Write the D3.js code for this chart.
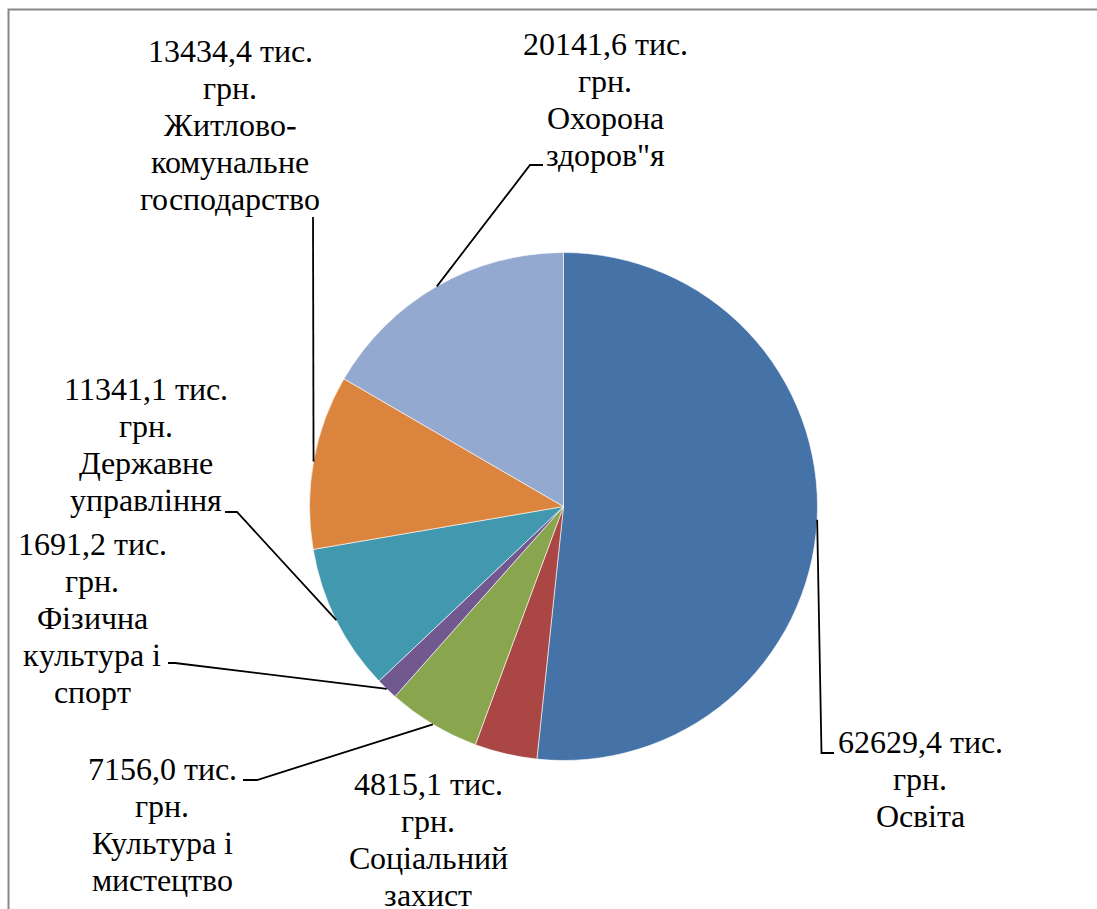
<!DOCTYPE html>
<html>
<head>
<meta charset="utf-8">
<script src="https://cdn.jsdelivr.net/npm/d3@7"></script>
<style>
  @font-face { font-family: "LabelSerif"; src: local("Liberation Serif"), local("LiberationSerif"), local("LiberationSerif-Regular"); }
</style>
</head>
<body style="margin:0">
<script>
// spending by sector, тис. грн.
const categories = ["Освіта", "Соціальний захист", "Культура і мистецтво", "Фізична культура і спорт",
  "Державне управління", "Житлово-комунальне господарство", "Охорона здоров\"я"];
const values = [62629.4, 4815.1, 7156.0, 1691.2, 11341.1, 13434.4, 20141.6];
const valueLabels = ["62629,4", "4815,1", "7156,0", "1691,2", "11341,1", "13434,4", "20141,6"];
const nameLines = [["Освіта"], ["Соціальний", "захист"], ["Культура і", "мистецтво"], ["Фізична", "культура і", "спорт"],
  ["Державне", "управління"], ["Житлово-", "комунальне", "господарство"], ["Охорона", "здоров\"я"]];
const colors = ["#4572A7", "#AA4643", "#89A54E", "#71588F", "#4198AF", "#DB843D", "#93A9CF"];

const width = 1097, height = 909;
const cx = 563.5, cy = 506.5, r = 254;
const lineH = 37;

// label placement: text centre x, first baseline y, leader elbow and end (null = no leader)
const labelPos = [
  { x: 920, y: 753, elbow: [821.5, 753], end: [834, 753] },
  { x: 428, y: 795, elbow: null },
  { x: 162, y: 780, elbow: [257, 780], end: [243, 780] },
  { x: 92, y: 555, elbow: [175, 663], end: [168, 663] },
  { x: 146, y: 400, elbow: [237, 512], end: [225, 512] },
  { x: 230, y: 62, elbow: [313, 217], end: [313, 217] },
  { x: 605, y: 55, elbow: [530, 165], end: [543, 165] }
];

const svg = d3.select("body").append("svg")
  .attr("width", width)
  .attr("height", height)
  .style("display", "block");

svg.append("rect")
  .attr("x", 8.5).attr("y", 9.5)
  .attr("width", 1200).attr("height", 1000)
  .attr("fill", "#fff")
  .attr("stroke", "#888")
  .attr("stroke-width", 2);

const pie = d3.pie().sort(null).value(d => d)(values);
const arc = d3.arc().innerRadius(0).outerRadius(r);
const edge = d3.arc().innerRadius(r).outerRadius(r);

const g = svg.append("g").attr("transform", `translate(${cx},${cy})`);

g.selectAll("path.slice")
  .data(pie)
  .enter()
  .append("path")
    .attr("class", "slice")
    .attr("d", arc)
    .attr("fill", (d, i) => colors[i])
    .attr("stroke", "#fff")
    .attr("stroke-width", 0.6);

// leader lines
svg.selectAll("path.leader")
  .data(pie.filter((d, i) => labelPos[i].elbow))
  .enter()
  .append("path")
    .attr("class", "leader")
    .attr("fill", "none")
    .attr("stroke", "#000")
    .attr("stroke-width", 1.8)
    .attr("d", d => {
      const p = labelPos[d.index];
      const c = edge.centroid(d);
      return d3.line()([[cx + c[0], cy + c[1]], p.elbow, p.end]);
    });

// labels, one text per line, centred by measuring
pie.forEach((d, i) => {
  const p = labelPos[i];
  const lines = [valueLabels[i] + " тис.", "грн."].concat(nameLines[i]);
  lines.forEach((s, k) => {
    const t = svg.append("text")
      .attr("x", p.x)
      .attr("y", p.y + k * lineH)
      .attr("font-family", "LabelSerif, Liberation Serif")
      .style("font-family", "LabelSerif, Liberation Serif")
      .style("font-size", "32px")
      .attr("fill", "#000")
      .text(s);
    const w = t.node().getComputedTextLength();
    t.attr("x", p.x - w / 2);
  });
});
</script>
</body>
</html>
